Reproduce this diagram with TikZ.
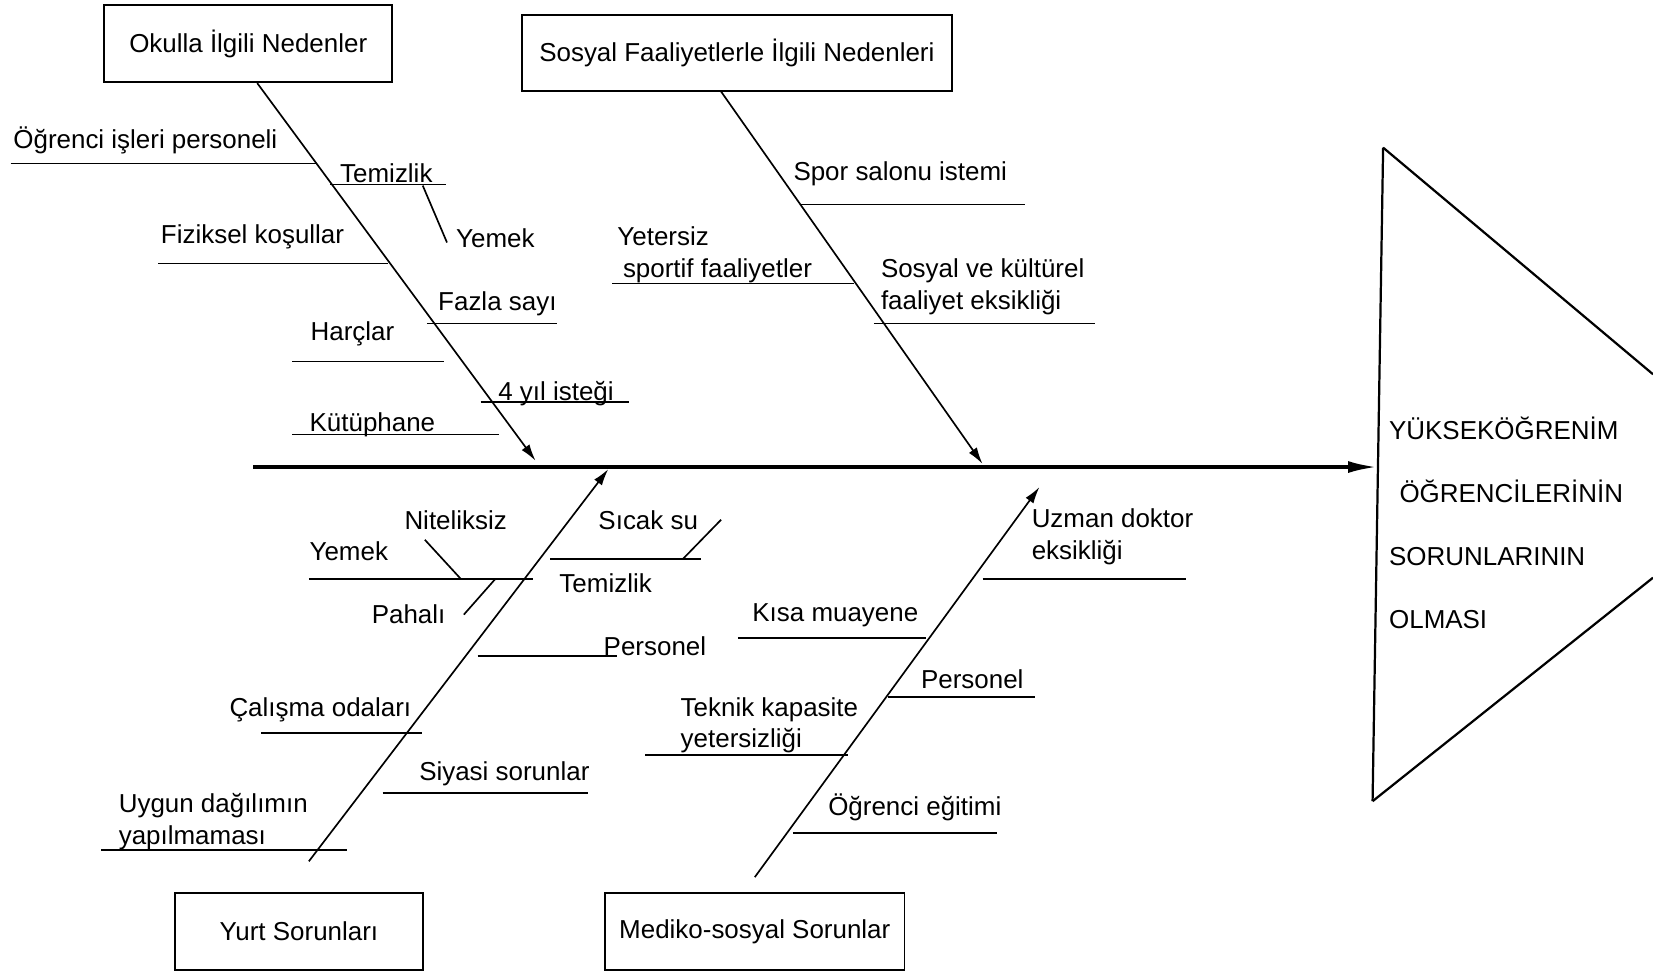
\documentclass[tikz,border=0pt]{standalone}
\usepackage{fontspec}
\setmainfont{Liberation Sans}
\usetikzlibrary{arrows.meta}

\begin{document}
\begin{tikzpicture}[x=0.01cm, y=-0.01cm,
        txt/.style={inner sep=0pt, anchor=west, align=left, font=\fontsize{7}{8.6}\selectfont},
        cause/.style={draw, line width=0.45pt, inner sep=0pt, font=\fontsize{7}{8.6}\selectfont},
        bone/.style={line width=0.45pt, -{Latex[length=4.5pt,width=2.6pt]}},
        twig/.style={line width=0.45pt}]
        \useasboundingbox (0,0) rectangle (1568,923);

        % spine and head
        \coordinate (tail) at (240,443);
        \coordinate (hit) at (1307,443);
        \coordinate (htop) at (1312,140);
        \coordinate (hbot) at (1302,760);
        \draw [line width=1pt, -{Latex[length=8pt,width=3.2pt]}] (tail) -- (hit);
        \draw [line width=0.6pt] (htop) -- (hbot);
        \draw [line width=0.6pt] (htop) -- (1568,355);
        \draw [line width=0.6pt] (hbot) -- (1568,548);
        \node (head) at (1317,496) [txt, font=\fontsize{7}{17}\selectfont]
                {YÜKSEKÖĞRENİM\\\hspace*{2.8pt}ÖĞRENCİLERİNİN\\SORUNLARININ\\OLMASI};

        % main causes
        \node (okul) at (235.5,41.5) [cause, minimum width=2.73cm, minimum height=0.73cm] {Okulla İlgili Nedenler};
        \node (sosyal) at (699,50) [cause, minimum width=4.08cm, minimum height=0.72cm] {Sosyal Faaliyetlerle İlgili Nedenleri};
        \node (yurt) at (283.5,883.5) [cause, minimum width=2.35cm, minimum height=0.73cm] {Yurt Sorunları};
        \node (mediko) at (716,883.5) [cause, minimum width=2.84cm, minimum height=0.73cm] {Mediko-sosyal Sorunlar};

        \coordinate (t1) at (508,437);
        \coordinate (t2) at (932,440);
        \coordinate (t3) at (577,445);
        \coordinate (t4) at (986,462);
        \coordinate (s3) at (293,817);
        \coordinate (s4) at (716,832);
        \draw [bone] ([xshift=0.085cm]okul.south) -- (t1);
        \draw [bone] ([xshift=-0.15cm]sosyal.south) -- (t2);
        \draw [bone] (s3) -- (t3);
        \draw [bone] (s4) -- (t4);

        % okul
        \node (ogr) at (12,133) [txt] {Öğrenci işleri personeli};
        \draw [twig] (10,155) -- (300,155);
        \node (tem) at (322,164) [txt] {Temizlik};
        \draw [twig] (313,175) -- (423,175);
        \node (yem) at (432,226) [txt] {Yemek};
        \draw [twig] (401,176) -- (424,230);
        \node (fiz) at (152,225) [txt] {Fiziksel koşullar};
        \draw [twig] (150,250) -- (368,250);
        \node (faz) at (415,288) [txt] {Fazla sayı};
        \draw [twig] (405,307) -- (528,307);
        \node (har) at (294,317) [txt] {Harçlar};
        \draw [twig] (277,343) -- (421,343);
        \node (yil) at (472,373) [txt] {4 yıl isteği};
        \draw [twig] (456,381) -- (597,381);
        \node (kut) at (293,403) [txt] {Kütüphane};
        \draw [twig] (277,412) -- (473,412);

        % sosyal
        \node (spor) at (752,165) [txt] {Spor salonu istemi};
        \draw [twig] (760,194) -- (972,194);
        \node (yet) at (585,242) [txt] {Yetersiz\\\hspace*{1.5pt}sportif faaliyetler};
        \draw [twig] (581,269) -- (810,269);
        \node (kul) at (835,272) [txt] {Sosyal ve kültürel\\faaliyet eksikliği};
        \draw [twig] (829,307) -- (1039,307);

        % yurt
        \node (nit) at (383,493) [txt] {Niteliksiz};
        \draw [twig] (403,512) -- (437,549);
        \node (yem2) at (293,523) [txt] {Yemek};
        \draw [twig] (293,549) -- (506,549);
        \node (pah) at (352,583) [txt] {Pahalı};
        \draw [twig] (440,583) -- (470,549);
        \node (sic) at (567,493) [txt] {Sıcak su};
        \draw [twig] (648,530) -- (684,493);
        \node (tem2) at (530,553) [txt] {Temizlik};
        \draw [twig] (522,530) -- (665,530);
        \node (per) at (572,613) [txt] {Personel};
        \draw [twig] (453,622) -- (585,622);
        \node (cal) at (217,673) [txt] {Çalışma odaları};
        \draw [twig] (248,695) -- (400,695);
        \node (siy) at (397,734) [txt] {Siyasi sorunlar};
        \draw [twig] (363,752) -- (558,752);
        \node (uyg) at (112,779) [txt] {Uygun dağılımın\\yapılmaması};
        \draw [twig] (96,806) -- (329,806);

        % mediko
        \node (uzm) at (978,509) [txt] {Uzman doktor\\eksikliği};
        \draw [twig] (932,549) -- (1125,549);
        \node (kis) at (713,584) [txt] {Kısa muayene};
        \draw [twig] (700,605) -- (878,605);
        \node (per2) at (873,644) [txt] {Personel};
        \draw [twig] (842,661) -- (982,661);
        \node (tek) at (645,688) [txt] {Teknik kapasite\\yetersizliği};
        \draw [twig] (612,716) -- (804,716);
        \node (egi) at (785,766) [txt] {Öğrenci eğitimi};
        \draw [twig] (752,790) -- (946,790);
    \end{tikzpicture}
\end{document}
